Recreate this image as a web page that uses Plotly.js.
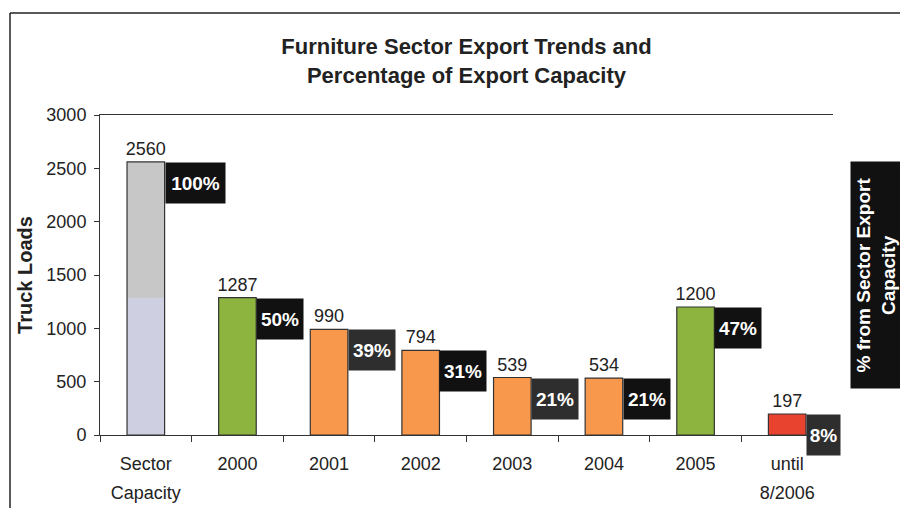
<!DOCTYPE html>
<html>
<head>
<meta charset="utf-8">
<script src="https://cdn.plot.ly/plotly-3.0.1.min.js"></script>
<style>html,body{margin:0;padding:0;background:#fff;}#chart{width:900px;height:508px;}</style>
</head>
<body>
<div id="chart"></div>
<script>
// ---- data ----
const categories = ['Sector Capacity', '2000', '2001', '2002', '2003', '2004', '2005', 'until 8/2006'];
const tickLine1 = ['Sector', '2000', '2001', '2002', '2003', '2004', '2005', 'until'];
const tickLine2 = ['Capacity', '', '', '', '', '', '', '8/2006'];
const truckLoads = [2560, 1287, 990, 794, 539, 534, 1200, 197];
const percentLabels = ['100%', '50%', '39%', '31%', '21%', '21%', '47%', '8%'];
const capacityShadeLevel = [1287, null, null, null, null, null, null, null];

// ---- styles ----
const barColors = ['rgba(0,0,0,0)', '#8db43e', '#f7984c', '#f7984c', '#f7984c', '#f7984c', '#8db43e', '#e8432f'];
const boxColors = ['#111111', '#111111', '#2e2e2e', '#111111', '#2e2e2e', '#111111', '#111111', '#2e2e2e'];
const FONT = 'Arial, "Liberation Sans", sans-serif';
const W = 900, H = 508;
const M = {l: 100, r: 67, t: 115, b: 73};
const plotW = W - M.l - M.r, plotH = H - M.t - M.b;
const barWidth = 0.41;
const halfBarPx = barWidth * (plotW / categories.length) / 2;
const px2x = px => (px - M.l) / plotW;
const py2y = py => (H - M.b - py) / plotH;

const traces = [
  { type: 'bar', x: categories, y: truckLoads.map((v, i) => i === 0 ? v : null),
    width: barWidth, marker: {color: '#c7c7c7', line: {width: 0}}, hoverinfo: 'skip' },
  { type: 'bar', x: categories, y: capacityShadeLevel,
    width: barWidth, marker: {color: '#cfcfe2', line: {width: 0}}, hoverinfo: 'skip' },
  { type: 'bar', x: categories, y: truckLoads, width: barWidth,
    marker: {color: barColors, line: {color: '#333', width: 1.2}},
    text: truckLoads.map(String), textposition: 'outside', constraintext: 'none', cliponaxis: false,
    textfont: {family: FONT, size: 18, color: '#222'} },
  { type: 'scatter', mode: 'markers', x: categories, y: truckLoads, xaxis: 'x2', yaxis: 'y',
    marker: {opacity: 0}, hoverinfo: 'skip' }
];

// category axis: annotation x given as the category index
const annotations = categories.map((c, i) => ({
  x: i, y: truckLoads[i], xref: 'x', yref: 'y', xanchor: 'left', yanchor: 'top',
  xshift: halfBarPx, showarrow: false, text: '<b>' + percentLabels[i] + '</b>',
  bgcolor: boxColors[i], borderpad: 0, width: 13 * percentLabels[i].length + 7, height: 40,
  font: {family: FONT, size: 19, color: '#fff'}, align: 'center', valign: 'middle'
}));
annotations.push({
  xref: 'paper', yref: 'paper', x: px2x(876), y: py2y(275), xanchor: 'center', yanchor: 'middle',
  showarrow: false, textangle: -90, text: '<b>% from Sector Export<br>Capacity</b>',
  bgcolor: '#111', borderpad: 0, width: 226, height: 50,
  font: {family: FONT, size: 19, color: '#fff'}
});

const layout = {
  width: W, height: H, margin: M, paper_bgcolor: '#fff', plot_bgcolor: '#fff',
  showlegend: false, barmode: 'overlay',
  title: {text: '<b>Furniture Sector Export Trends and<br>Percentage of Export Capacity</b>',
    x: 0.5, xref: 'paper', y: 0.893, yanchor: 'top', font: {family: FONT, size: 22, color: '#222'}},
  xaxis: {type: 'category', tickvals: categories, ticktext: tickLine1, showline: true, mirror: true,
    linecolor: '#333', linewidth: 1, ticks: 'outside', ticklen: 6, tickcolor: '#333', tickson: 'boundaries',
    showgrid: false, zeroline: false, ticklabelstandoff: 12,
    tickfont: {family: FONT, size: 18, color: '#222'}, range: [-0.5, 7.5]},
  xaxis2: {type: 'category', overlaying: 'x', side: 'bottom', tickvals: categories, ticktext: tickLine2,
    showline: false, ticks: '', showgrid: false, zeroline: false, ticklabelstandoff: 45,
    tickfont: {family: FONT, size: 18, color: '#222'}, range: [-0.5, 7.5]},
  yaxis: {range: [0, 3000], dtick: 500, showline: true, linecolor: '#333', linewidth: 1,
    ticks: 'outside', ticklen: 5, tickcolor: '#333', showgrid: false, zeroline: false,
    ticklabelstandoff: 4, tickfont: {family: FONT, size: 18, color: '#222'},
    title: {text: '<b>Truck Loads</b>', standoff: 8, font: {family: FONT, size: 20, color: '#222'}}},
  yaxis2: {range: [0, 120], dtick: 20, overlaying: 'y', side: 'right', showline: true,
    linecolor: '#333', linewidth: 1, ticks: 'outside', ticklen: 5, tickcolor: '#333',
    showticklabels: false, showgrid: false, zeroline: false},
  annotations: annotations,
  shapes: [
    {type: 'line', xref: 'paper', yref: 'paper', x0: px2x(10), x1: px2x(10), y0: py2y(13), y1: py2y(510),
      line: {color: '#222', width: 1.5}},
    {type: 'line', xref: 'paper', yref: 'paper', x0: px2x(10), x1: px2x(902), y0: py2y(13), y1: py2y(13),
      line: {color: '#222', width: 1.5}}
  ]
};

Plotly.newPlot('chart', traces, layout, {displayModeBar: false, staticPlot: true});
</script>
</body>
</html>
